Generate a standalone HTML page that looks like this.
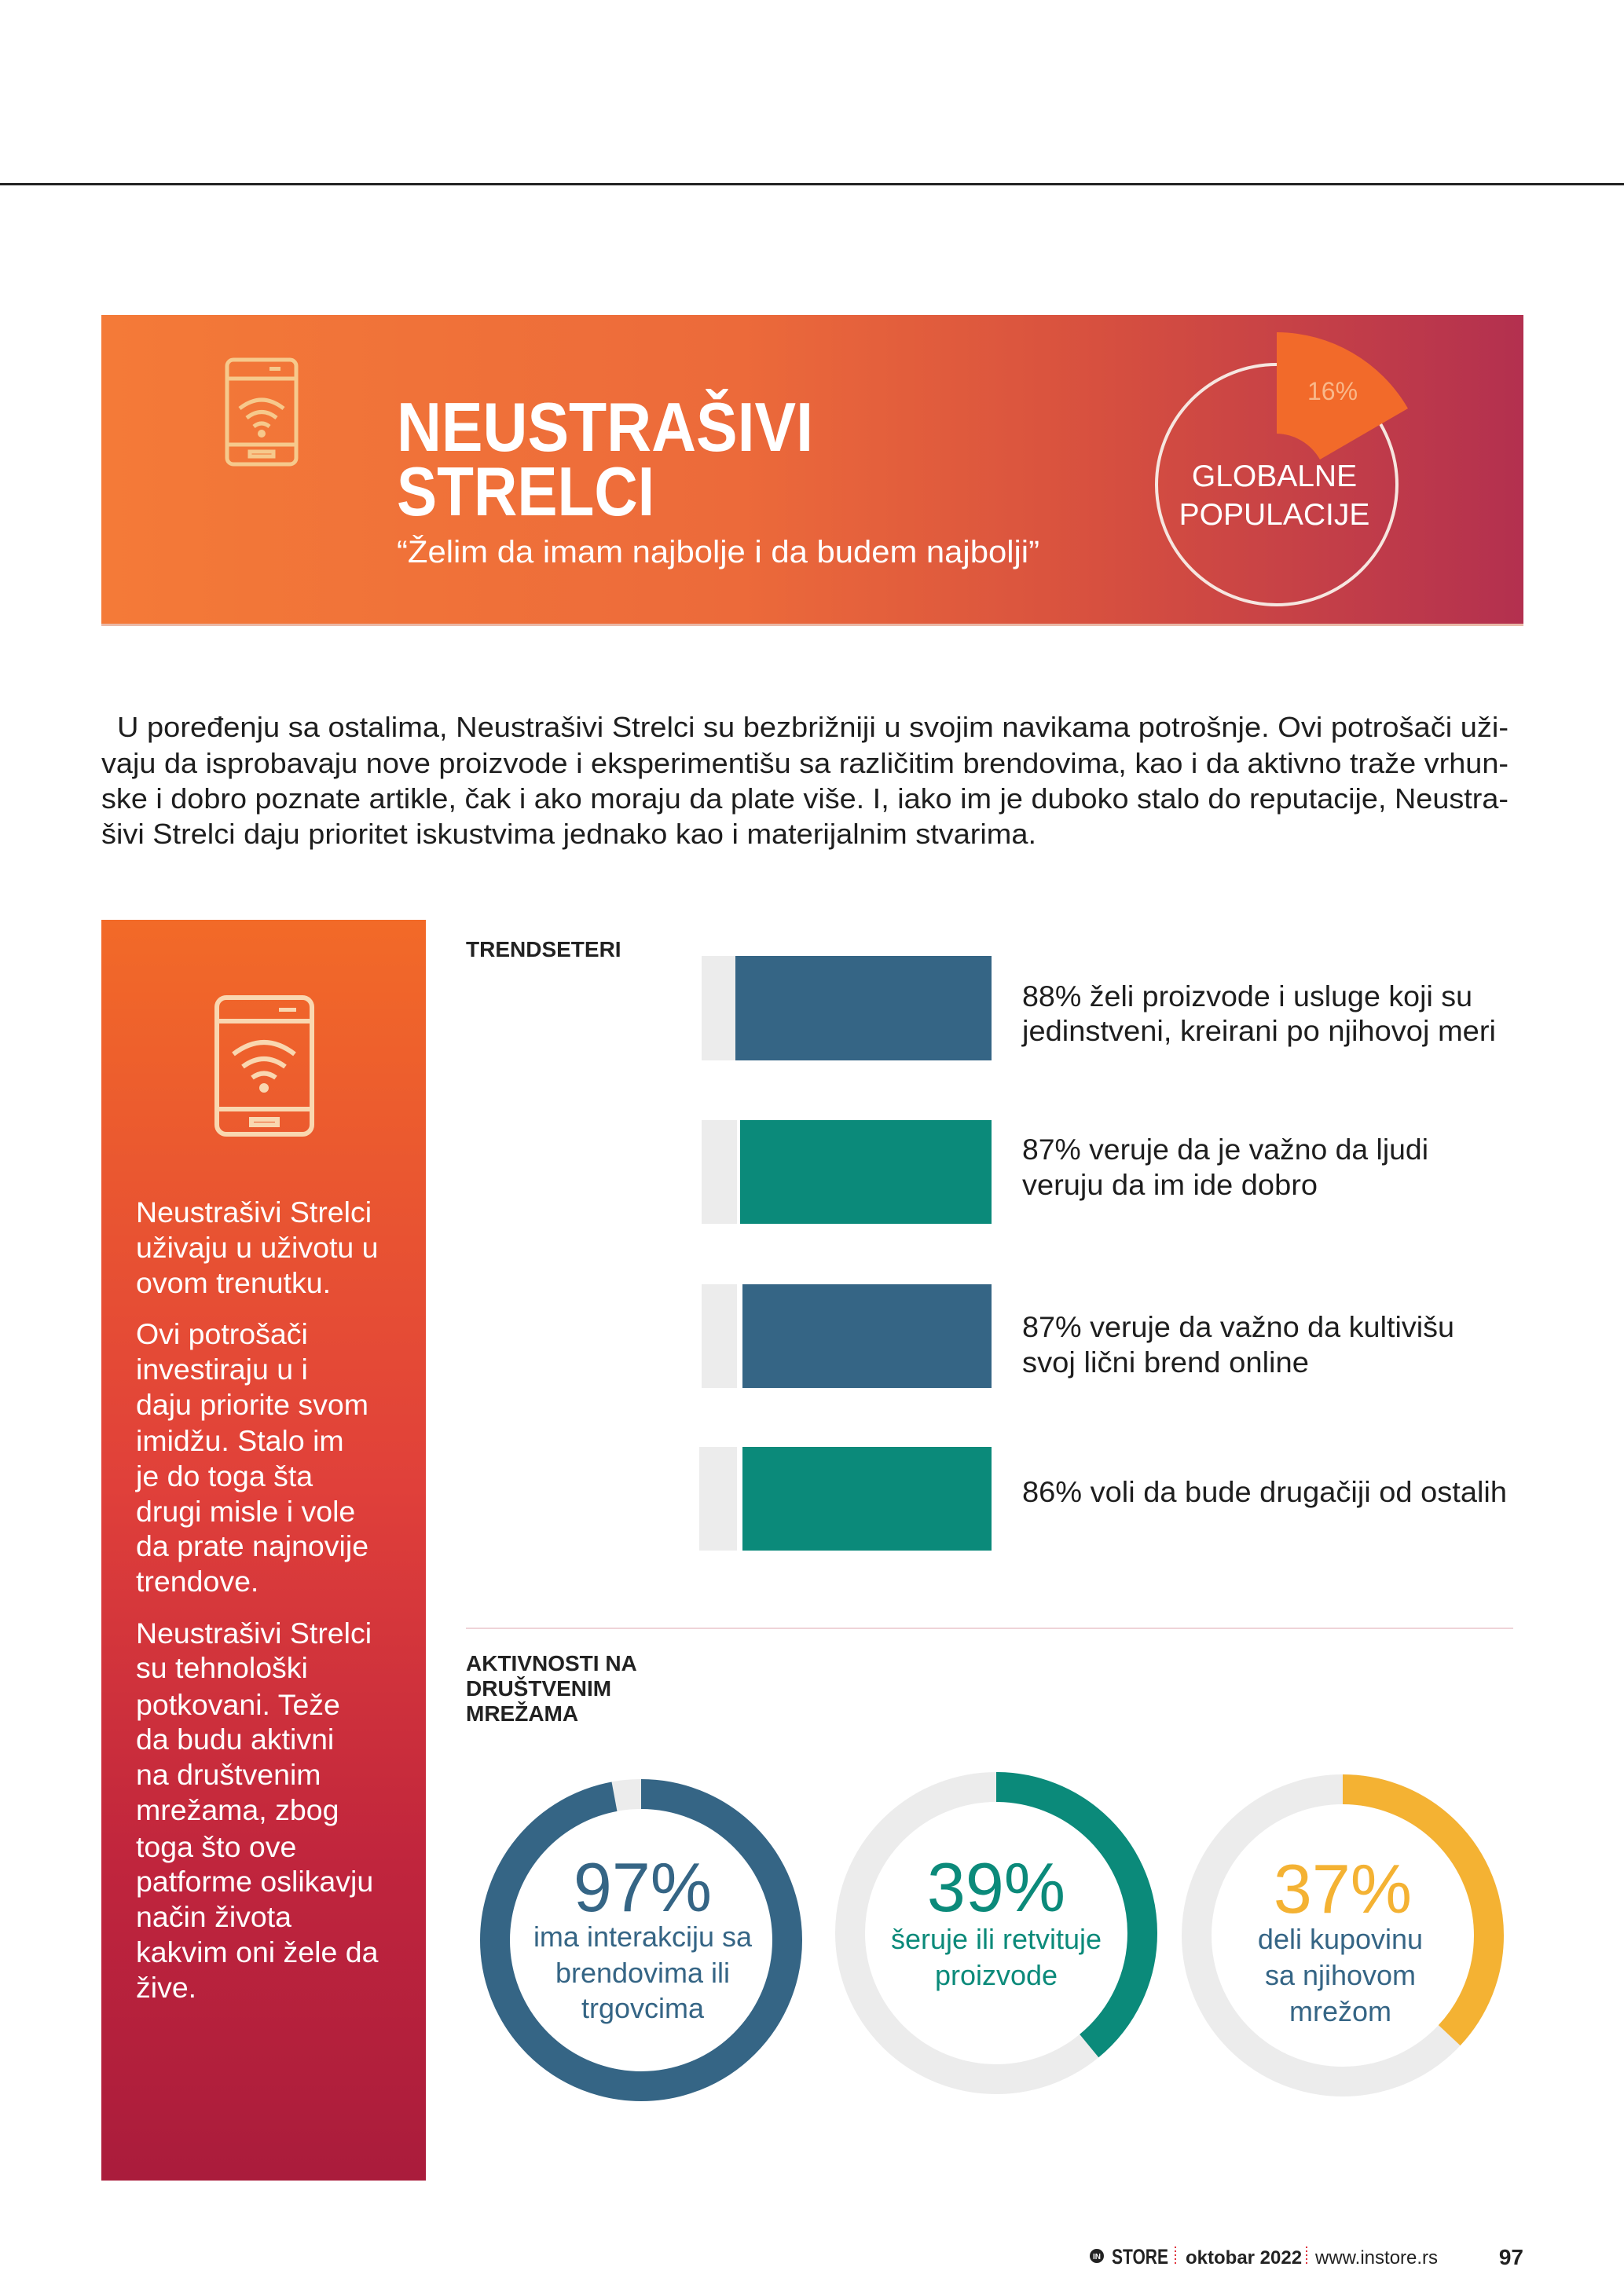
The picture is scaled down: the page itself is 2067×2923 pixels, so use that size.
<!DOCTYPE html>
<html><head><meta charset="utf-8"><style>
html,body{margin:0;padding:0;background:#fff;}
svg{display:block;}
text{font-family:"Liberation Sans",sans-serif;}
</style></head><body>
<svg width="2067" height="2923" viewBox="0 0 2067 2923" xmlns="http://www.w3.org/2000/svg">
<defs>
<linearGradient id="hg" x1="0" y1="0" x2="1" y2="0">
<stop offset="0" stop-color="#f47a38"/><stop offset="0.45" stop-color="#ec6a3a"/><stop offset="0.7" stop-color="#d7503f"/><stop offset="1" stop-color="#b3304f"/>
</linearGradient>
<linearGradient id="vg" x1="0" y1="0" x2="0" y2="1">
<stop offset="0" stop-color="#f26a28"/><stop offset="0.45" stop-color="#e0403a"/><stop offset="0.75" stop-color="#c0253d"/><stop offset="1" stop-color="#aa1c3c"/>
</linearGradient>
</defs>
<rect x="0" y="233" width="2067" height="3" fill="#222"/>
<rect x="129" y="401" width="1810" height="395" fill="url(#hg)"/>
<rect x="129" y="794" width="1810" height="3" fill="#e9b9a8"/>
<g fill="none" stroke="#f6c98c" stroke-width="5">
<rect x="289" y="458" width="88" height="133" rx="8"/>
<line x1="289" y1="482" x2="377" y2="482"/><line x1="289" y1="566" x2="377" y2="566"/>
<path d="M305 520 Q333 498 361 520"/><path d="M314 532 Q333 517 352 532"/><path d="M323 543 Q333 535 343 543"/>
<rect x="318" y="575" width="30" height="6"/>
</g>
<circle cx="333" cy="552" r="5" fill="#f6c98c"/>
<rect x="343" y="467" width="14" height="5" fill="#f6c98c"/>
<text x="505" y="574" font-size="88" font-weight="bold" fill="#fff" textLength="530" lengthAdjust="spacingAndGlyphs">NEUSTRAŠIVI</text>
<text x="505" y="656" font-size="88" font-weight="bold" fill="#fff" textLength="328" lengthAdjust="spacingAndGlyphs">STRELCI</text>
<text x="505" y="716" font-size="40" fill="#fff" textLength="818" lengthAdjust="spacingAndGlyphs">“Želim da imam najbolje i da budem najbolji”</text>
<circle cx="1625" cy="617" r="153" fill="none" stroke="#f6e6e0" stroke-width="4"/>
<path d="M1625 423 A194 194 0 0 1 1792 520 L1680 585 A65 65 0 0 0 1625 552 Z" fill="#f26a2a"/>
<text x="1696" y="509" font-size="32" fill="#f9b88a" text-anchor="middle">16%</text>
<text x="1622" y="619" font-size="39" fill="#fff" text-anchor="middle">GLOBALNE</text>
<text x="1622" y="668" font-size="39" fill="#fff" text-anchor="middle">POPULACIJE</text>
<g font-size="36" fill="#1e1e1e">
<text x="149" y="938" textLength="1771" lengthAdjust="spacingAndGlyphs">U poređenju sa ostalima, Neustrašivi Strelci su bezbrižniji u svojim navikama potrošnje. Ovi potrošači uži-</text>
<text x="129" y="984" textLength="1791" lengthAdjust="spacingAndGlyphs">vaju da isprobavaju nove proizvode i eksperimentišu sa različitim brendovima, kao i da aktivno traže vrhun-</text>
<text x="129" y="1029" textLength="1791" lengthAdjust="spacingAndGlyphs">ske i dobro poznate artikle, čak i ako moraju da plate više. I, iako im je duboko stalo do reputacije, Neustra-</text>
<text x="129" y="1074" textLength="1190" lengthAdjust="spacingAndGlyphs">šivi Strelci daju prioritet iskustvima jednako kao i materijalnim stvarima.</text>
</g>
<rect x="129" y="1171" width="413" height="1605" fill="url(#vg)"/>
<g fill="none" stroke="#f9d7b0" stroke-width="6">
<rect x="276" y="1270" width="121" height="174" rx="12"/>
<line x1="276" y1="1300" x2="397" y2="1300"/><line x1="276" y1="1412" x2="397" y2="1412"/>
<path d="M297 1342 Q336 1312 375 1342"/><path d="M309 1358 Q336 1338 363 1358"/><path d="M321 1372 Q336 1361 351 1372"/>
<rect x="320" y="1425" width="33" height="7"/>
</g>
<circle cx="336" cy="1385" r="6" fill="#f9d7b0"/>
<rect x="355" y="1283" width="22" height="5" fill="#f9d7b0"/>
<g font-size="37.5" fill="#fff">
<text x="173" y="1556">Neustrašivi Strelci</text>
<text x="173" y="1601">uživaju u uživotu u</text>
<text x="173" y="1646">ovom trenutku.</text>
<text x="173" y="1711">Ovi potrošači</text>
<text x="173" y="1756">investiraju u i</text>
<text x="173" y="1801">daju priorite svom</text>
<text x="173" y="1847">imidžu. Stalo im</text>
<text x="173" y="1892">je do toga šta</text>
<text x="173" y="1937">drugi misle i vole</text>
<text x="173" y="1981">da prate najnovije</text>
<text x="173" y="2026">trendove.</text>
<text x="173" y="2092">Neustrašivi Strelci</text>
<text x="173" y="2136">su tehnološki</text>
<text x="173" y="2183">potkovani. Teže</text>
<text x="173" y="2227">da budu aktivni</text>
<text x="173" y="2272">na društvenim</text>
<text x="173" y="2317">mrežama, zbog</text>
<text x="173" y="2364">toga što ove</text>
<text x="173" y="2408">patforme oslikavju</text>
<text x="173" y="2453">način života</text>
<text x="173" y="2498">kakvim oni žele da</text>
<text x="173" y="2543">žive.</text>
</g>
<text x="593" y="1218" font-size="28" font-weight="bold" fill="#222">TRENDSETERI</text>
<g fill="#ececec">
<rect x="893" y="1217" width="45" height="133"/><rect x="893" y="1426" width="45" height="132"/>
<rect x="893" y="1635" width="45" height="132"/><rect x="890" y="1842" width="48" height="132"/>
</g>
<rect x="936" y="1217" width="326" height="133" fill="#356585"/>
<rect x="942" y="1426" width="320" height="132" fill="#0b8a7a"/>
<rect x="945" y="1635" width="317" height="132" fill="#356585"/>
<rect x="945" y="1842" width="317" height="132" fill="#0b8a7a"/>
<g font-size="37" fill="#1e1e1e">
<text x="1301" y="1281" textLength="573" lengthAdjust="spacingAndGlyphs">88% želi proizvode i usluge koji su</text>
<text x="1301" y="1325" textLength="603" lengthAdjust="spacingAndGlyphs">jedinstveni, kreirani po njihovoj meri</text>
<text x="1301" y="1476" textLength="517" lengthAdjust="spacingAndGlyphs">87% veruje da je važno da ljudi</text>
<text x="1301" y="1521" textLength="376" lengthAdjust="spacingAndGlyphs">veruju da im ide dobro</text>
<text x="1301" y="1702" textLength="550" lengthAdjust="spacingAndGlyphs">87% veruje da važno da kultivišu</text>
<text x="1301" y="1747" textLength="365" lengthAdjust="spacingAndGlyphs">svoj lični brend online</text>
<text x="1301" y="1912" textLength="617" lengthAdjust="spacingAndGlyphs">86% voli da bude drugačiji od ostalih</text>
</g>
<rect x="593" y="2072" width="1333" height="2" fill="#efd3d8"/>
<g font-size="28" font-weight="bold" fill="#222">
<text x="593" y="2127">AKTIVNOSTI NA</text>
<text x="593" y="2159">DRUŠTVENIM</text>
<text x="593" y="2191">MREŽAMA</text>
</g>
<g fill="none" stroke-width="38">
<circle cx="816" cy="2470" r="186" stroke="#ececec"/>
<circle cx="816" cy="2470" r="186" stroke="#356585" stroke-dasharray="1134 2000" transform="rotate(-90 816 2470)"/>
<circle cx="1268" cy="2461" r="186" stroke="#ececec"/>
<circle cx="1268" cy="2461" r="186" stroke="#0b8a7a" stroke-dasharray="456 2000" transform="rotate(-90 1268 2461)"/>
<circle cx="1709" cy="2464" r="186" stroke="#ececec"/>
<circle cx="1709" cy="2464" r="186" stroke="#f4b233" stroke-dasharray="432 2000" transform="rotate(-90 1709 2464)"/>
</g>
<g text-anchor="middle">
<text x="818" y="2433" font-size="88" fill="#356585">97%</text>
<text x="1268" y="2433" font-size="88" fill="#0b8a7a">39%</text>
<text x="1709" y="2435" font-size="88" fill="#f4b233">37%</text>
<g font-size="36" fill="#356585">
<text x="818" y="2478">ima interakciju sa</text><text x="818" y="2524">brendovima ili</text><text x="818" y="2569">trgovcima</text>
</g>
<g font-size="36" fill="#0b8a7a">
<text x="1268" y="2481">šeruje ili retvituje</text><text x="1268" y="2527">proizvode</text>
</g>
<g font-size="36" fill="#356585">
<text x="1706" y="2481">deli kupovinu</text><text x="1706" y="2527">sa njihovom</text><text x="1706" y="2573">mrežom</text>
</g>
</g>
<circle cx="1396" cy="2872" r="9" fill="#222"/>
<text x="1396" y="2876" font-size="10" fill="#fff" text-anchor="middle" font-weight="bold">IN</text>
<text x="1415" y="2882" font-size="27" font-weight="bold" fill="#222" textLength="72" lengthAdjust="spacingAndGlyphs">STORE</text>
<line x1="1496" y1="2860" x2="1496" y2="2884" stroke="#e0303a" stroke-width="2" stroke-dasharray="2 3"/>
<text x="1509" y="2882" font-size="24" font-weight="bold" fill="#222">oktobar 2022</text>
<line x1="1663" y1="2860" x2="1663" y2="2884" stroke="#e0303a" stroke-width="2" stroke-dasharray="2 3"/>
<text x="1674" y="2882" font-size="24" fill="#222">www.instore.rs</text>
<text x="1939" y="2883" font-size="28" font-weight="bold" fill="#222" text-anchor="end">97</text>
</svg>
</body></html>
